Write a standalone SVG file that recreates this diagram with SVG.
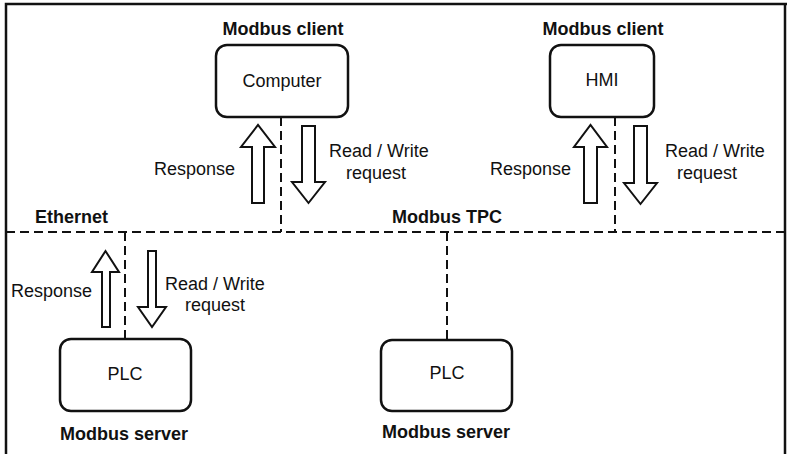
<svg xmlns="http://www.w3.org/2000/svg" width="787" height="454" viewBox="0 0 787 454">
<defs>
<style>
text{font-family:"Liberation Sans",Arial,sans-serif;font-size:18px;fill:#111}
.b{font-weight:bold}
.box{fill:#fff;stroke:#111;stroke-width:2.5}
.dash{fill:none;stroke:#111;stroke-width:2;stroke-dasharray:9 5}
.arr{fill:#fff;stroke:#111;stroke-width:2;stroke-linejoin:miter}
.frame{fill:none;stroke:#111;stroke-width:2.5}
</style>
</defs>
<rect width="787" height="454" fill="#fff"/>
<path class="frame" d="M6,454 V4 H787 M785,4 V454"/>
<g id="connectors">
<line class="dash" x1="6" y1="232" x2="787" y2="232"/>
<line class="dash" x1="281" y1="117" x2="281" y2="232"/>
<line class="dash" x1="615" y1="117" x2="615" y2="232"/>
<line class="dash" x1="125" y1="232" x2="125" y2="339"/>
<line class="dash" x1="447" y1="232" x2="447" y2="340"/>
<polygon class="arr" points="252,203 252,147 241,147 258,125 275,147 264,147 264,203"/>
<polygon class="arr" points="302,126 315,126 315,182 325,182 308.5,203 292,182 302,182"/>
<polygon class="arr" points="584,203 584,147 574,147 590.5,125 607,147 597,147 597,203"/>
<polygon class="arr" points="634,126 647,126 647,183 657,183 640.5,204 624,183 634,183"/>
<polygon class="arr" points="102,327 102,272 92,272 105.5,251 119,272 110,272 110,327"/>
<polygon class="arr" points="148,251 156,251 156,307 166,307 152,327 138,307 148,307"/>
<text x="235" y="175" text-anchor="end">Response</text>
<text x="329" y="157">Read / Write</text>
<text x="346" y="179">request</text>
<text x="571" y="175" text-anchor="end">Response</text>
<text x="665" y="157">Read / Write</text>
<text x="677" y="179">request</text>
<text x="92" y="297" text-anchor="end">Response</text>
<text x="165" y="290">Read / Write</text>
<text x="185" y="311">request</text>
<text class="b" x="35" y="223">Ethernet</text>
<text class="b" x="447" y="223" text-anchor="middle">Modbus TPC</text>
</g>
<g id="computer">
<text class="b" x="283" y="35" text-anchor="middle">Modbus client</text>
<rect class="box" x="216" y="45" width="132" height="72" rx="11"/>
<text x="282" y="87" text-anchor="middle">Computer</text>
</g>
<g id="hmi">
<text class="b" x="603" y="35" text-anchor="middle">Modbus client</text>
<rect class="box" x="550" y="45" width="104" height="72" rx="11"/>
<text x="602" y="86" text-anchor="middle">HMI</text>
</g>
<g id="plc1">
<rect class="box" x="60" y="339" width="131" height="72" rx="11"/>
<text x="125" y="380" text-anchor="middle">PLC</text>
<text class="b" x="124" y="440" text-anchor="middle">Modbus server</text>
</g>
<g id="plc2">
<rect class="box" x="381" y="340" width="131" height="71" rx="11"/>
<text x="447" y="379" text-anchor="middle">PLC</text>
<text class="b" x="446" y="438" text-anchor="middle">Modbus server</text>
</g>
</svg>
